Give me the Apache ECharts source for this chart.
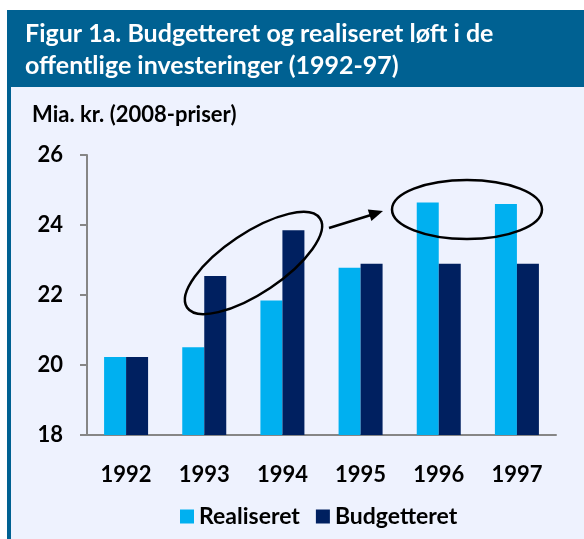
<!DOCTYPE html>
<html>
<head>
<meta charset="utf-8">
<script src="https://cdn.jsdelivr.net/npm/echarts@6/dist/echarts.min.js"></script>
<style>
  html, body { margin: 0; padding: 0; background: #fff; }
  #chart { width: 584px; height: 539px; }
</style>
</head>
<body>
<div id="chart"></div>
<script>
const years = ['1992', '1993', '1994', '1995', '1996', '1997'];
const realiseret = [20.23, 20.51, 21.84, 22.78, 24.64, 24.6];
const budgetteret = [20.23, 22.54, 23.85, 22.89, 22.89, 22.89];
const yTicks = [18, 20, 22, 24, 26];

const font = 'Lato, "Open Sans", sans-serif';
const axisGrey = '#868686';

var chartDom = document.getElementById('chart');
var myChart = echarts.init(chartDom);

let option = {
  backgroundColor: '#ffffff',
  animation: false,
  textStyle: { fontFamily: font },
  graphic: [
    // panel background + header band + left border
    { type: 'rect', z: -10, shape: { x: 7, y: 10, width: 577, height: 529 }, style: { fill: '#EEF2FE' } },
    { type: 'rect', z: -9, shape: { x: 7, y: 10, width: 577, height: 77 }, style: { fill: '#006192' } },
    { type: 'rect', z: -9, shape: { x: 7, y: 10, width: 4, height: 529 }, style: { fill: '#006192' } },
    // annotations
    {
      type: 'ellipse', z: 100, x: 253.5, y: 263, rotation: 0.59,
      shape: { cx: 0, cy: 0, rx: 80, ry: 30 },
      style: { fill: 'none', stroke: '#000', lineWidth: 2.5 }
    },
    {
      type: 'ellipse', z: 100, x: 467, y: 209.5,
      shape: { cx: 0, cy: 0, rx: 75, ry: 29.5 },
      style: { fill: 'none', stroke: '#000', lineWidth: 2.5 }
    },
    {
      type: 'line', z: 100,
      shape: { x1: 329, y1: 228, x2: 371, y2: 215 },
      style: { stroke: '#000', lineWidth: 2.5 }
    },
    {
      type: 'polygon', z: 100,
      shape: { points: [[383, 211], [371.4, 220.9], [367.8, 209.5]] },
      style: { fill: '#000' }
    }
  ],
  title: [
    {
      text: 'Figur 1a. Budgetteret og realiseret løft i de\noffentlige investeringer (1992-97)',
      left: 20, top: 13,
      textStyle: { color: '#fff', fontSize: 25, fontWeight: 'bold', lineHeight: 32, fontFamily: font }
    },
    {
      text: 'Mia. kr. (2008-priser)',
      left: 27, top: 99,
      textStyle: { color: '#000', fontSize: 22, fontWeight: 'bold', fontFamily: font }
    }
  ],
  legend: {
    data: ['Realiseret', 'Budgetteret'],
    left: 175, top: 500,
    icon: 'rect',
    itemWidth: 14, itemHeight: 14,
    itemGap: 16,
    textStyle: { color: '#000', fontSize: 23, fontWeight: 'bold', fontFamily: font }
  },
  grid: {
    left: 87, right: 28, top: 155, bottom: 104,
    containLabel: false
  },
  xAxis: {
    type: 'category',
    data: years,
    axisLine: { lineStyle: { color: axisGrey, width: 2 } },
    axisTick: { length: 8, lineStyle: { color: axisGrey, width: 2 } },
    axisLabel: { color: '#000', fontSize: 22, fontWeight: 'bold', margin: 29, fontFamily: font }
  },
  yAxis: {
    type: 'value',
    min: yTicks[0], max: yTicks[yTicks.length - 1], interval: 2,
    splitLine: { show: false },
    axisLine: { show: true, lineStyle: { color: axisGrey, width: 2 } },
    axisTick: { show: true, length: 7, lineStyle: { color: axisGrey, width: 2 } },
    axisLabel: { color: '#000', fontSize: 22, fontWeight: 'bold', margin: 24, fontFamily: font }
  },
  series: [
    {
      name: 'Realiseret',
      type: 'bar',
      data: realiseret,
      barWidth: 22,
      barGap: '0%',
      itemStyle: { color: '#00B0F0' }
    },
    {
      name: 'Budgetteret',
      type: 'bar',
      data: budgetteret,
      barWidth: 22,
      itemStyle: { color: '#002060' }
    }
  ]
};
option && myChart.setOption(option);
</script>
</body>
</html>
